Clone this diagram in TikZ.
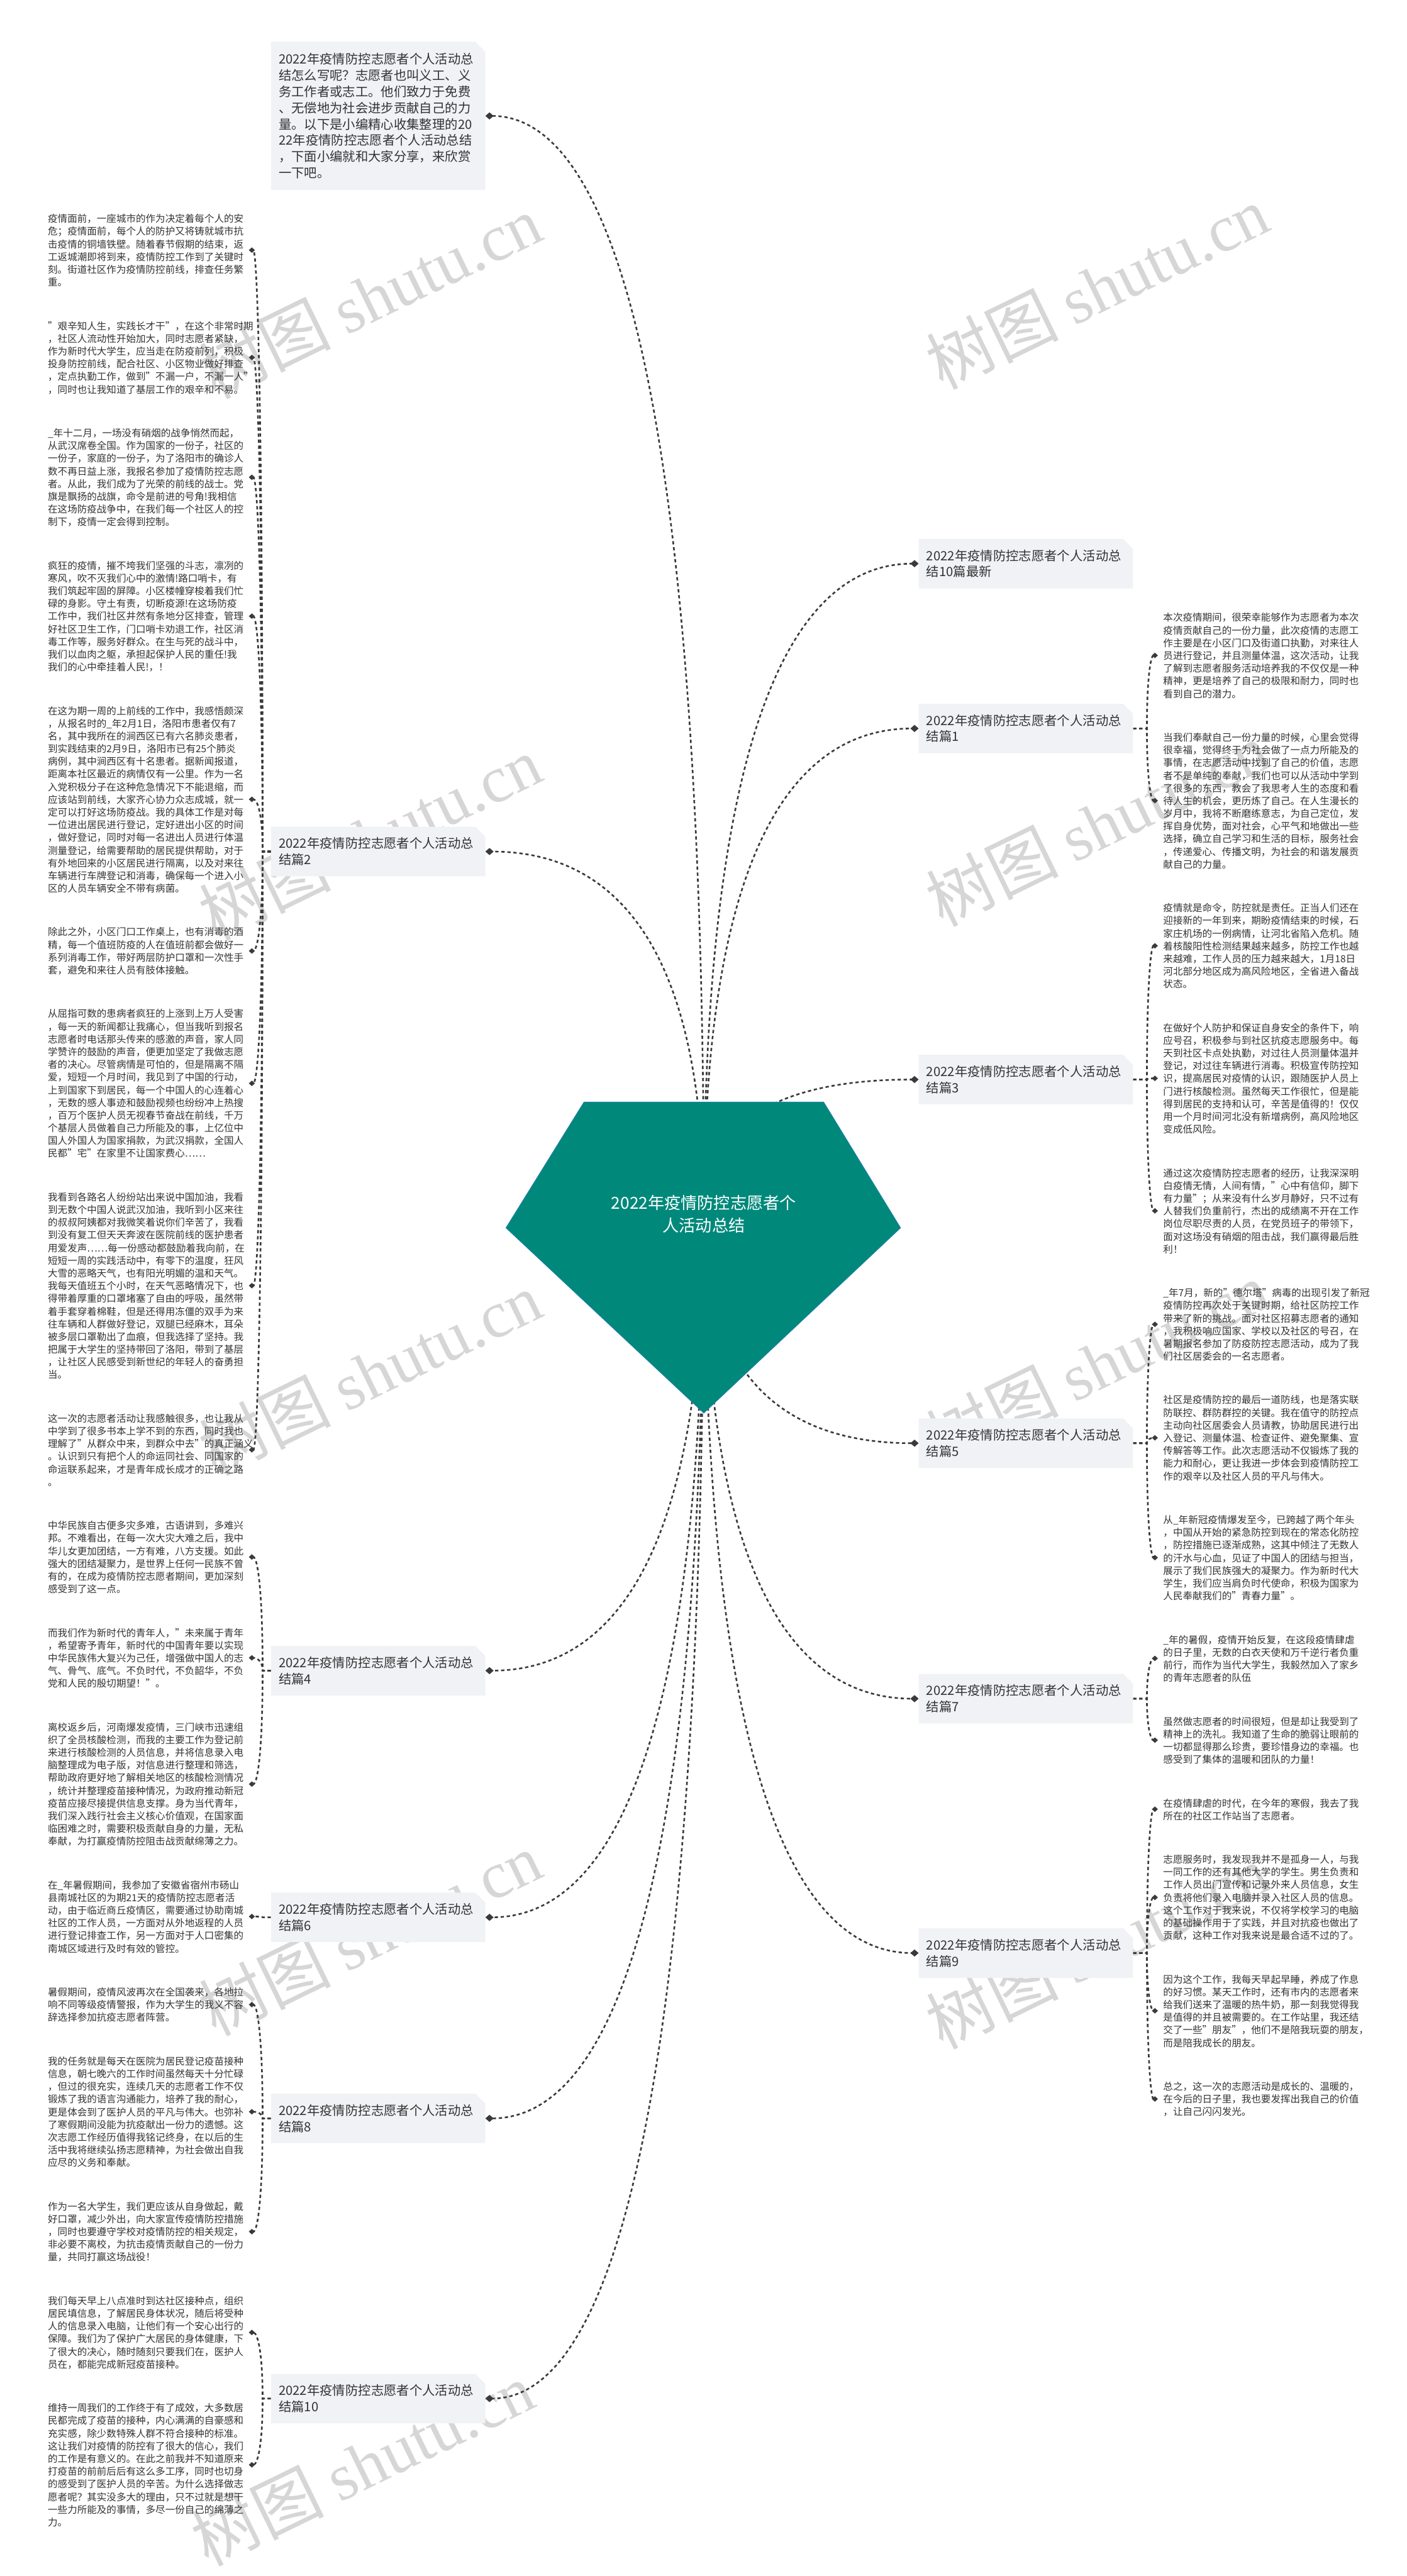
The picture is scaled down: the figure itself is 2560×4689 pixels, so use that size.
\documentclass[tikz,border=0pt]{standalone}
\usepackage{fontspec}
\setmainfont{Noto Sans CJK SC}
\newfontfamily\markserif{Liberation Serif}
\usetikzlibrary{arrows.meta,calc,backgrounds,shapes.misc}
\definecolor{rootfill}{HTML}{00897B}
\definecolor{rootline}{HTML}{1F7FA8}
\definecolor{topicfill}{HTML}{F0F2F5}
\definecolor{inktext}{HTML}{333333}
\definecolor{linkline}{HTML}{3A3A3A}
\definecolor{markgray}{HTML}{D6D6D6}
\newcommand\leafstrut{\rule{0pt}{16pt}}
\tikzset{
 link/.style={draw=linkline,line width=3pt,dash pattern=on 6pt off 5pt},
 bigtip/.style={-{Diamond[length=15pt,width=13pt,line width=0pt,fill=linkline]}},
 smalltip/.style={-{Diamond[length=11pt,width=10pt,line width=0pt,fill=linkline]}},
 topic/.style={chamfered rectangle,chamfered rectangle corners=north east,
  chamfered rectangle xsep=9pt,chamfered rectangle ysep=9pt,fill=topicfill,
  anchor=west,inner sep=0pt,minimum width=390pt,minimum height=90pt,
  text width=362pt,align=left,text=inktext,font=\fontsize{23.3pt}{29.5pt}\selectfont},
 leaf/.style={anchor=north west,inner sep=0pt,text width=360pt,align=left,
  text=inktext,font=\fontsize{17.8pt}{23.1pt}\selectfont},
 wmark/.style={text=markgray,rotate=26,inner sep=0pt,font=\fontsize{120pt}{120pt}\selectfont}
}
\begin{document}
\begin{tikzpicture}[x=1pt,y=-1pt]
\useasboundingbox (0,0) rectangle (2560,4689);

\node[topic,minimum height=270pt] (intro) at (493,211) {2022年疫情防控志愿者个人活动总\\%
结怎么写呢？志愿者也叫义工、义\\%
务工作者或志工。他们致力于免费\\%
、无偿地为社会进步贡献自己的力\\%
量。以下是小编精心收集整理的20\\%
22年疫情防控志愿者个人活动总结\\%
，下面小编就和大家分享，来欣赏\\%
一下吧。};

\node[topic] (b2) at (493,1550) {2022年疫情防控志愿者个人活动总\\结篇2};
\node[topic] (b4) at (493,3041) {2022年疫情防控志愿者个人活动总\\结篇4};
\node[topic] (b6) at (493,3490) {2022年疫情防控志愿者个人活动总\\结篇6};
\node[topic] (b8) at (493,3856) {2022年疫情防控志愿者个人活动总\\结篇8};
\node[topic] (b10) at (493,4366) {2022年疫情防控志愿者个人活动总\\结篇10};
\node[topic] (b0) at (1672,1026) {2022年疫情防控志愿者个人活动总\\结10篇最新};
\node[topic] (b1) at (1672,1326) {2022年疫情防控志愿者个人活动总\\结篇1};
\node[topic] (b3) at (1672,1965) {2022年疫情防控志愿者个人活动总\\结篇3};
\node[topic] (b5) at (1672,2627) {2022年疫情防控志愿者个人活动总\\结篇5};
\node[topic] (b7) at (1672,3092) {2022年疫情防控志愿者个人活动总\\结篇7};
\node[topic] (b9) at (1672,3555) {2022年疫情防控志愿者个人活动总\\结篇9};

\node[leaf] (l1) at (87,388.8) {\leafstrut{}疫情面前，一座城市的作为决定着每个人的安\\%
危；疫情面前，每个人的防护又将铸就城市抗\\%
击疫情的铜墙铁壁。随着春节假期的结束，返\\%
工返城潮即将到来，疫情防控工作到了关键时\\%
刻。街道社区作为疫情防控前线，排查任务繁\\%
重。};
\node[leaf] (l2) at (87,583.8) {\leafstrut{}"艰辛知人生，实践长才干"，在这个非常时期\\%
，社区人流动性开始加大，同时志愿者紧缺，\\%
作为新时代大学生，应当走在防疫前列，积极\\%
投身防控前线，配合社区、小区物业做好排查\\%
，定点执勤工作，做到"不漏一户，不漏一人"\\%
，同时也让我知道了基层工作的艰辛和不易。};
\node[leaf] (l3) at (87,778.8) {\leafstrut{}\_年十二月，一场没有硝烟的战争悄然而起，\\%
从武汉席卷全国。作为国家的一份子，社区的\\%
一份子，家庭的一份子，为了洛阳市的确诊人\\%
数不再日益上涨，我报名参加了疫情防控志愿\\%
者。从此，我们成为了光荣的前线的战士。党\\%
旗是飘扬的战旗，命令是前进的号角!我相信\\%
在这场防疫战争中，在我们每一个社区人的控\\%
制下，疫情一定会得到控制。};
\node[leaf] (l4) at (87,1020) {\leafstrut{}疯狂的疫情，摧不垮我们坚强的斗志，凛冽的\\%
寒风，吹不灭我们心中的激情!路口哨卡，有\\%
我们筑起牢固的屏障。小区楼幢穿梭着我们忙\\%
碌的身影。守土有责，切断疫源!在这场防疫\\%
工作中，我们社区井然有条地分区排查，管理\\%
好社区卫生工作，门口哨卡劝退工作，社区消\\%
毒工作等，服务好群众。在生与死的战斗中，\\%
我们以血肉之躯，承担起保护人民的重任!我\\%
我们的心中牵挂着人民!，！};
\node[leaf] (l5) at (87,1284.3) {\leafstrut{}在这为期一周的上前线的工作中，我感悟颇深\\%
，从报名时的\_年2月1日，洛阳市患者仅有7\\%
名，其中我所在的涧西区已有六名肺炎患者，\\%
到实践结束的2月9日，洛阳市已有25个肺炎\\%
病例，其中涧西区有十名患者。据新闻报道，\\%
距离本社区最近的病情仅有一公里。作为一名\\%
入党积极分子在这种危急情况下不能退缩，而\\%
应该站到前线，大家齐心协力众志成城，就一\\%
定可以打好这场防疫战。我的具体工作是对每\\%
一位进出居民进行登记，定好进出小区的时间\\%
，做好登记，同时对每一名进出人员进行体温\\%
测量登记，给需要帮助的居民提供帮助，对于\\%
有外地回来的小区居民进行隔离，以及对来往\\%
车辆进行车牌登记和消毒，确保每一个进入小\\%
区的人员车辆安全不带有病菌。};
\node[leaf] (l6) at (87,1687.2) {\leafstrut{}除此之外，小区门口工作桌上，也有消毒的酒\\%
精，每一个值班防疫的人在值班前都会做好一\\%
系列消毒工作，带好两层防护口罩和一次性手\\%
套，避免和来往人员有肢体接触。};
\node[leaf] (l7) at (87,1836) {\leafstrut{}从屈指可数的患病者疯狂的上涨到上万人受害\\%
，每一天的新闻都让我痛心，但当我听到报名\\%
志愿者时电话那头传来的感激的声音，家人同\\%
学赞许的鼓励的声音，便更加坚定了我做志愿\\%
者的决心。尽管病情是可怕的，但是隔离不隔\\%
爱，短短一个月时间，我见到了中国的行动，\\%
上到国家下到居民，每一个中国人的心连着心\\%
，无数的感人事迹和鼓励视频也纷纷冲上热搜\\%
，百万个医护人员无视春节奋战在前线，千万\\%
个基层人员做着自己力所能及的事，上亿位中\\%
国人外国人为国家捐款，为武汉捐款，全国人\\%
民都"宅"在家里不让国家费心……};
\node[leaf] (l8) at (87,2169.6) {\leafstrut{}我看到各路名人纷纷站出来说中国加油，我看\\%
到无数个中国人说武汉加油，我听到小区来往\\%
的叔叔阿姨都对我微笑着说你们辛苦了，我看\\%
到没有复工但天天奔波在医院前线的医护患者\\%
用爱发声……每一份感动都鼓励着我向前，在\\%
短短一周的实践活动中，有零下的温度，狂风\\%
大雪的恶略天气，也有阳光明媚的温和天气。\\%
我每天值班五个小时，在天气恶略情况下，也\\%
得带着厚重的口罩堵塞了自由的呼吸，虽然带\\%
着手套穿着棉鞋，但是还得用冻僵的双手为来\\%
往车辆和人群做好登记，双腿已经麻木，耳朵\\%
被多层口罩勒出了血痕，但我选择了坚持。我\\%
把属于大学生的坚持带回了洛阳，带到了基层\\%
，让社区人民感受到新世纪的年轻人的奋勇担\\%
当。};
\node[leaf] (l9) at (87,2572.5) {\leafstrut{}这一次的志愿者活动让我感触很多，也让我从\\%
中学到了很多书本上学不到的东西，同时我也\\%
理解了"从群众中来，到群众中去"的真正涵义\\%
。认识到只有把个人的命运同社会、同国家的\\%
命运联系起来，才是青年成长成才的正确之路\\%
。};
\node[leaf] (l10) at (87,2767.5) {\leafstrut{}中华民族自古便多灾多难，古语讲到，多难兴\\%
邦。不难看出，在每一次大灾大难之后，我中\\%
华儿女更加团结，一方有难，八方支援。如此\\%
强大的团结凝聚力，是世界上任何一民族不曾\\%
有的，在成为疫情防控志愿者期间，更加深刻\\%
感受到了这一点。};
\node[leaf] (l11) at (87,2962.5) {\leafstrut{}而我们作为新时代的青年人，"未来属于青年\\%
，希望寄予青年，新时代的中国青年要以实现\\%
中华民族伟大复兴为己任，增强做中国人的志\\%
气、骨气、底气。不负时代，不负韶华，不负\\%
党和人民的殷切期望！"。};
\node[leaf] (l12) at (87,3134.4) {\leafstrut{}离校返乡后，河南爆发疫情，三门峡市迅速组\\%
织了全员核酸检测，而我的主要工作为登记前\\%
来进行核酸检测的人员信息，并将信息录入电\\%
脑整理成为电子版，对信息进行整理和筛选，\\%
帮助政府更好地了解相关地区的核酸检测情况\\%
，统计并整理疫苗接种情况，为政府推动新冠\\%
疫苗应接尽接提供信息支撑。身为当代青年，\\%
我们深入践行社会主义核心价值观，在国家面\\%
临困难之时，需要积极贡献自身的力量，无私\\%
奉献，为打赢疫情防控阻击战贡献绵薄之力。};
\node[leaf] (l13) at (87,3421.8) {\leafstrut{}在\_年暑假期间，我参加了安徽省宿州市砀山\\%
县南城社区的为期21天的疫情防控志愿者活\\%
动，由于临近商丘疫情区，需要通过协助南城\\%
社区的工作人员，一方面对从外地返程的人员\\%
进行登记排查工作，另一方面对于人口密集的\\%
南城区域进行及时有效的管控。};
\node[leaf] (l14) at (87,3616.8) {\leafstrut{}暑假期间，疫情风波再次在全国袭来，各地拉\\%
响不同等级疫情警报，作为大学生的我义不容\\%
辞选择参加抗疫志愿者阵营。};
\node[leaf] (l15) at (87,3742.5) {\leafstrut{}我的任务就是每天在医院为居民登记疫苗接种\\%
信息，朝七晚六的工作时间虽然每天十分忙碌\\%
，但过的很充实，连续几天的志愿者工作不仅\\%
锻炼了我的语言沟通能力，培养了我的耐心，\\%
更是体会到了医护人员的平凡与伟大。也弥补\\%
了寒假期间没能为抗疫献出一份力的遗憾。这\\%
次志愿工作经历值得我铭记终身，在以后的生\\%
活中我将继续弘扬志愿精神，为社会做出自我\\%
应尽的义务和奉献。};
\node[leaf] (l16) at (87,4006.8) {\leafstrut{}作为一名大学生，我们更应该从自身做起，戴\\%
好口罩，减少外出，向大家宣传疫情防控措施\\%
，同时也要遵守学校对疫情防控的相关规定，\\%
非必要不离校，为抗击疫情贡献自己的一份力\\%
量，共同打赢这场战役！};
\node[leaf] (l17) at (87,4178.7) {\leafstrut{}我们每天早上八点准时到达社区接种点，组织\\%
居民填信息，了解居民身体状况，随后将受种\\%
人的信息录入电脑，让他们有一个安心出行的\\%
保障。我们为了保护广大居民的身体健康，下\\%
了很大的决心，随时随刻只要我们在，医护人\\%
员在，都能完成新冠疫苗接种。};
\node[leaf] (l18) at (87,4373.7) {\leafstrut{}维持一周我们的工作终于有了成效，大多数居\\%
民都完成了疫苗的接种，内心满满的自豪感和\\%
充实感，除少数特殊人群不符合接种的标准。\\%
这让我们对疫情的防控有了很大的信心，我们\\%
的工作是有意义的。在此之前我并不知道原来\\%
打疫苗的前前后后有这么多工序，同时也切身\\%
的感受到了医护人员的辛苦。为什么选择做志\\%
愿者呢？其实没多大的理由，只不过就是想干\\%
一些力所能及的事情，多尽一份自己的绵薄之\\%
力。};

\node[leaf] (r1) at (2117,1114.8) {\leafstrut{}本次疫情期间，很荣幸能够作为志愿者为本次\\%
疫情贡献自己的一份力量，此次疫情的志愿工\\%
作主要是在小区门口及街道口执勤，对来往人\\%
员进行登记，并且测量体温，这次活动，让我\\%
了解到志愿者服务活动培养我的不仅仅是一种\\%
精神，更是培养了自己的极限和耐力，同时也\\%
看到自己的潜力。};
\node[leaf] (r2) at (2117,1332.9) {\leafstrut{}当我们奉献自己一份力量的时候，心里会觉得\\%
很幸福，觉得终于为社会做了一点力所能及的\\%
事情，在志愿活动中找到了自己的价值，志愿\\%
者不是单纯的奉献，我们也可以从活动中学到\\%
了很多的东西，教会了我思考人生的态度和看\\%
待人生的机会，更历炼了自己。在人生漫长的\\%
岁月中，我将不断磨练意志，为自己定位，发\\%
挥自身优势，面对社会，心平气和地做出一些\\%
选择，确立自己学习和生活的目标，服务社会\\%
，传递爱心、传播文明，为社会的和谐发展贡\\%
献自己的力量。};
\node[leaf] (r3) at (2117,1643.4) {\leafstrut{}疫情就是命令，防控就是责任。正当人们还在\\%
迎接新的一年到来，期盼疫情结束的时候，石\\%
家庄机场的一例病情，让河北省陷入危机。随\\%
着核酸阳性检测结果越来越多，防控工作也越\\%
来越难，工作人员的压力越来越大，1月18日\\%
河北部分地区成为高风险地区，全省进入备战\\%
状态。};
\node[leaf] (r4) at (2117,1861.5) {\leafstrut{}在做好个人防护和保证自身安全的条件下，响\\%
应号召，积极参与到社区抗疫志愿服务中。每\\%
天到社区卡点处执勤，对过往人员测量体温并\\%
登记，对过往车辆进行消毒。积极宣传防控知\\%
识，提高居民对疫情的认识，跟随医护人员上\\%
门进行核酸检测。虽然每天工作很忙，但是能\\%
得到居民的支持和认可，辛苦是值得的！仅仅\\%
用一个月时间河北没有新增病例，高风险地区\\%
变成低风险。};
\node[leaf] (r5) at (2117,2125.8) {\leafstrut{}通过这次疫情防控志愿者的经历，让我深深明\\%
白疫情无情，人间有情，"心中有信仰，脚下\\%
有力量"；从来没有什么岁月静好，只不过有\\%
人替我们负重前行，杰出的成绩离不开在工作\\%
岗位尽职尽责的人员，在党员班子的带领下，\\%
面对这场没有硝烟的阻击战，我们赢得最后胜\\%
利！};
\node[leaf] (r6) at (2117,2343.9) {\leafstrut{}\_年7月，新的"德尔塔"病毒的出现引发了新冠\\%
疫情防控再次处于关键时期，给社区防控工作\\%
带来了新的挑战。面对社区招募志愿者的通知\\%
，我积极响应国家、学校以及社区的号召，在\\%
暑期报名参加了防疫防控志愿活动，成为了我\\%
们社区居委会的一名志愿者。};
\node[leaf] (r7) at (2117,2538.9) {\leafstrut{}社区是疫情防控的最后一道防线，也是落实联\\%
防联控、群防群控的关键。我在值守的防控点\\%
主动向社区居委会人员请教，协助居民进行出\\%
入登记、测量体温、检查证件、避免聚集、宣\\%
传解答等工作。此次志愿活动不仅锻炼了我的\\%
能力和耐心，更让我进一步体会到疫情防控工\\%
作的艰辛以及社区人员的平凡与伟大。};
\node[leaf] (r8) at (2117,2757) {\leafstrut{}从\_年新冠疫情爆发至今，已跨越了两个年头\\%
，中国从开始的紧急防控到现在的常态化防控\\%
，防控措施已逐渐成熟，这其中倾注了无数人\\%
的汗水与心血，见证了中国人的团结与担当，\\%
展示了我们民族强大的凝聚力。作为新时代大\\%
学生，我们应当肩负时代使命，积极为国家为\\%
人民奉献我们的"青春力量"。};
\node[leaf] (r9) at (2117,2975.1) {\leafstrut{}\_年的暑假，疫情开始反复，在这段疫情肆虐\\%
的日子里，无数的白衣天使和万千逆行者负重\\%
前行，而作为当代大学生，我毅然加入了家乡\\%
的青年志愿者的队伍};
\node[leaf] (r10) at (2117,3123.9) {\leafstrut{}虽然做志愿者的时间很短，但是却让我受到了\\%
精神上的洗礼。我知道了生命的脆弱让眼前的\\%
一切都显得那么珍贵，要珍惜身边的幸福。也\\%
感受到了集体的温暖和团队的力量！};
\node[leaf] (r11) at (2117,3272.7) {\leafstrut{}在疫情肆虐的时代，在今年的寒假，我去了我\\%
所在的社区工作站当了志愿者。};
\node[leaf] (r12) at (2117,3375.3) {\leafstrut{}志愿服务时，我发现我并不是孤身一人，与我\\%
一同工作的还有其他大学的学生。男生负责和\\%
工作人员出门宣传和记录外来人员信息，女生\\%
负责将他们录入电脑并录入社区人员的信息。\\%
这个工作对于我来说，不仅将学校学习的电脑\\%
的基础操作用于了实践，并且对抗疫也做出了\\%
贡献，这种工作对我来说是最合适不过的了。};
\node[leaf] (r13) at (2117,3593.4) {\leafstrut{}因为这个工作，我每天早起早睡，养成了作息\\%
的好习惯。某天工作时，还有市内的志愿者来\\%
给我们送来了温暖的热牛奶，那一刻我觉得我\\%
是值得的并且被需要的。在工作站里，我还结\\%
交了一些"朋友"，他们不是陪我玩耍的朋友，\\%
而是陪我成长的朋友。};
\node[leaf] (r14) at (2117,3788.4) {\leafstrut{}总之，这一次的志愿活动是成长的、温暖的，\\%
在今后的日子里，我也要发挥出我自己的价值\\%
，让自己闪闪发光。};

\fill[rootfill,draw=rootline,line width=1.2pt] (1063,2006) -- (1499,2006) -- (1639,2235)
 -- (1281,2572) -- (921,2235) -- cycle;
\node[text=white,align=center,inner sep=0pt,font=\fontsize{30pt}{41pt}\selectfont]
 (root) at (1281,2210) {2022年疫情防控志愿者个\\人活动总结};

\begin{pgfonlayer}{background}
\fill[white] (0,0) rectangle (2560,4689);
\foreach \x/\y in {673/540,673/1525,673/2500,673/3520,660/4485,1997/523,1997/1500,1997/2482,1997/3543}
 \node[wmark] at (\x,\y) {树图 {\markserif shutu.cn}};
\foreach \b/\a in {intro/east,b2/east,b4/east,b6/east,b8/east,b10/east,
 b0/west,b1/west,b3/west,b5/west,b7/west,b9/west}
 \draw[link,bigtip] (root.center) .. controls ($(root.center)!2/3!(root.center |- \b.\a)$)
  and ($(\b.\a)!2/3!(root.center |- \b.\a)$) .. (\b.\a);
\foreach \b/\l in {b2/l1,b2/l2,b2/l3,b2/l4,b2/l5,b2/l6,b2/l7,b2/l8,b2/l9,
 b4/l10,b4/l11,b4/l12,b6/l13,b8/l14,b8/l15,b8/l16,b10/l17,b10/l18}
 \draw[link,smalltip] (\b.west) -- ++(-15,0) coordinate (s)
  .. controls ($(s)!2/3!(s |- \l.east)$) and ($([xshift=5.5pt]\l.east)!2/3!(s |- \l.east)$)
  .. ([xshift=5.5pt]\l.east);
\foreach \b/\r in {b1/r1,b1/r2,b3/r3,b3/r4,b3/r5,b5/r6,b5/r7,b5/r8,
 b7/r9,b7/r10,b9/r11,b9/r12,b9/r13,b9/r14}
 \draw[link,smalltip] (\b.east) -- ++(25,0) coordinate (s)
  .. controls ($(s)!2/3!(s |- \r.west)$) and ($([xshift=-9.5pt]\r.west)!2/3!(s |- \r.west)$)
  .. ([xshift=-9.5pt]\r.west);
\end{pgfonlayer}
\end{tikzpicture}
\end{document}
